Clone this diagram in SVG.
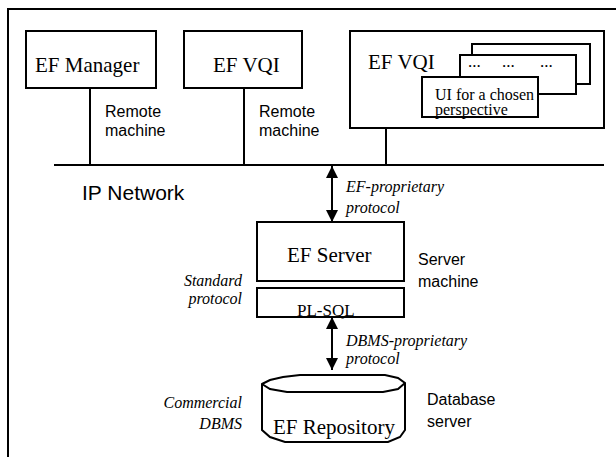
<svg xmlns="http://www.w3.org/2000/svg" width="616" height="457" viewBox="0 0 616 457">
<style>
.box{fill:#fff;stroke:#000;stroke-width:2}
.ln{fill:none;stroke:#000;stroke-width:2}
.big{font-family:"Liberation Serif",serif;font-size:21px;fill:#000}
.mid{font-family:"Liberation Serif",serif;font-size:17px;fill:#000}
.ui{font-family:"Liberation Serif",serif;font-size:16px;fill:#000}
.it{font-family:"Liberation Serif",serif;font-style:italic;font-size:16px;fill:#000}
.sans{font-family:"Liberation Sans",Arial,sans-serif;font-size:16px;fill:#000}
.ip{font-family:"Liberation Sans",Arial,sans-serif;font-size:21px;fill:#000}
</style>
<defs>
<marker id="ah" viewBox="0 0 12 12" refX="12" refY="6" markerWidth="12" markerHeight="12" markerUnits="userSpaceOnUse" orient="auto-start-reverse">
<path d="M0,0 L12,6 L0,12 Z" fill="#000"/>
</marker>
</defs>
<g id="frame">
<path class="ln" d="M8,457 L8,9 L616,9"/>
</g>
<g id="connectors">
<path class="ln" d="M54,165 L604,165"/>
<path class="ln" d="M90,88 L90,165"/>
<path class="ln" d="M244,88 L244,165"/>
<path class="ln" d="M386,128 L386,165"/>
<path class="ln" d="M332,166 L332,222" marker-start="url(#ah)" marker-end="url(#ah)"/>
<path class="ln" d="M332,317 L332,370" marker-start="url(#ah)" marker-end="url(#ah)"/>
</g>
<g id="ef-manager">
<rect class="box" x="26" y="31" width="130" height="57"/>
<text class="big" x="35" y="72">EF Manager</text>
<text class="sans" x="105" y="117">Remote</text>
<text class="sans" x="105" y="136">machine</text>
</g>
<g id="ef-vqi-1">
<rect class="box" x="184" y="31" width="118" height="57"/>
<text class="big" x="213" y="72">EF VQI</text>
<text class="sans" x="259" y="117">Remote</text>
<text class="sans" x="259" y="136">machine</text>
</g>
<g id="ef-vqi-2">
<rect class="box" x="350" y="31" width="254" height="97"/>
<text class="big" x="368" y="69">EF VQI</text>
<rect class="box" x="472" y="44" width="118" height="40"/>
<rect class="box" x="460" y="55" width="116" height="39"/>
<text class="mid" x="468" y="67">...</text>
<text class="mid" x="502" y="67">...</text>
<text class="mid" x="540" y="67">...</text>
<rect class="box" x="422" y="77" width="116" height="40"/>
<text class="ui" x="435" y="100">UI for a chosen</text>
<text class="ui" x="435" y="115">perspective</text>
</g>
<g id="ip-network">
<text class="ip" x="82" y="200">IP Network</text>
<text class="it" x="346" y="192">EF-proprietary</text>
<text class="it" x="346" y="213">protocol</text>
</g>
<g id="ef-server">
<rect class="box" x="257" y="222" width="147" height="59"/>
<text class="big" x="287" y="262">EF Server</text>
<text class="sans" x="418" y="265">Server</text>
<text class="sans" x="418" y="287">machine</text>
</g>
<g id="pl-sql">
<rect class="box" x="257" y="288" width="147" height="29"/>
<text class="mid" x="297" y="316">PL-SQL</text>
<text class="it" x="242" y="286" text-anchor="end">Standard</text>
<text class="it" x="242" y="304" text-anchor="end">protocol</text>
<text class="it" x="346" y="346">DBMS-proprietary</text>
<text class="it" x="346" y="364">protocol</text>
</g>
<g id="ef-repository">
<path class="box" d="M262,384 L270,380 L283,377 L300,375 L385,375 L398,378 L405,383 L405,430 L400,437 L388,442 L285,442 L270,437 L262,430 Z"/>
<path class="ln" d="M262,384 L270,389 L287,392 L383,392 L398,389 L405,383"/>
<text class="big" x="273" y="434">EF Repository</text>
<text class="it" x="242" y="408" text-anchor="end">Commercial</text>
<text class="it" x="242" y="429" text-anchor="end">DBMS</text>
<text class="sans" x="427" y="405">Database</text>
<text class="sans" x="427" y="427">server</text>
</g>
</svg>
